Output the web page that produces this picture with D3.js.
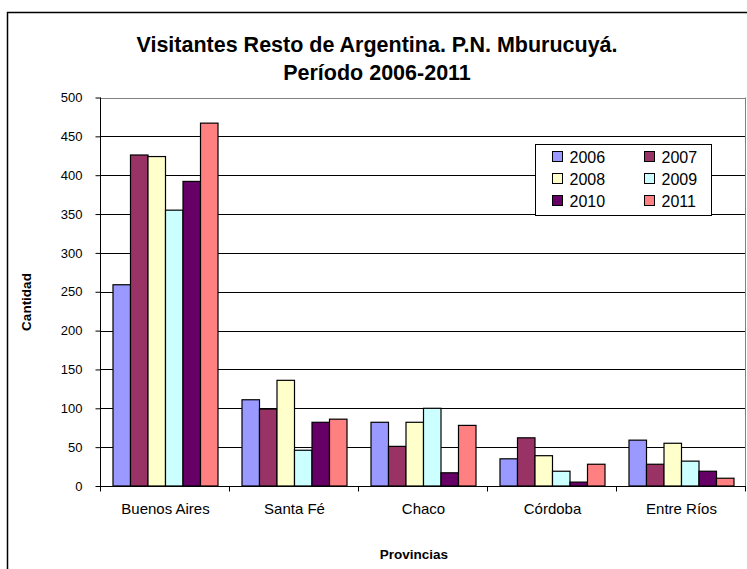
<!DOCTYPE html>
<html>
<head>
<meta charset="utf-8">
<script src="https://cdn.jsdelivr.net/npm/d3@7"></script>
<style>
  body { margin: 0; background: #fff; }
  svg { display: block; font-family: "Liberation Sans", Arial, sans-serif; }
</style>
</head>
<body>
<div class="chart"></div>
<script>
// data
var provincias = ["Buenos Aires", "Santa Fé", "Chaco", "Córdoba", "Entre Ríos"];
var years = ["2006", "2007", "2008", "2009", "2010", "2011"];
var v2006 = [259, 111, 82, 35, 59];
var v2007 = [426, 99, 51, 62, 28];
var v2008 = [424, 136, 82, 39, 55];
var v2009 = [355, 46, 100, 19, 32];
var v2010 = [392, 82, 17, 5, 19];
var v2011 = [467, 86, 78, 28, 10];
var yTicks = [0, 50, 100, 150, 200, 250, 300, 350, 400, 450, 500];

var colors = ["#9999FF", "#993366", "#FFFFCC", "#CCFFFF", "#660066", "#FF8080"];
var series = [v2006, v2007, v2008, v2009, v2010, v2011];

var svgWidth = 747;
var svgHeight = 569;
var plot = { left: 101, right: 746, top: 97.5, bottom: 486 };

var svg = d3.select(".chart")
    .append("svg")
    .attr("width", svgWidth)
    .attr("height", svgHeight);

// outer chart frame (runs off the right / bottom edge)
svg.append("rect")
    .attr("x", 7.5)
    .attr("y", 12.5)
    .attr("width", 760)
    .attr("height", 580)
    .attr("fill", "#fff")
    .attr("stroke", "#000")
    .attr("stroke-width", 1.5);

// title
var title = svg.append("text")
    .attr("text-anchor", "middle")
    .attr("font-weight", "bold")
    .attr("font-size", "21.5px");
title.append("tspan").attr("x", 377).attr("y", 52).text("Visitantes Resto de Argentina. P.N. Mburucuyá.");
title.append("tspan").attr("x", 377).attr("y", 80).text("Período 2006-2011");

// scales
var x0 = d3.scaleBand()
    .domain(provincias)
    .range([plot.left, plot.right])
    .paddingInner(0.186)
    .paddingOuter(0.093);

var x1 = d3.scaleBand()
    .domain(years)
    .range([0, x0.bandwidth()]);

var y = d3.scaleLinear()
    .domain([0, 500])
    .range([plot.bottom, plot.top]);

// gridlines
svg.append("g")
    .selectAll("line")
    .data(yTicks.slice(1))
    .enter()
    .append("line")
    .attr("x1", plot.left)
    .attr("x2", plot.right)
    .attr("y1", function(d) { return Math.round(y(d)) + 0.5; })
    .attr("y2", function(d) { return Math.round(y(d)) + 0.5; })
    .attr("stroke", function(d) { return d === 500 ? "#808080" : "#000"; })
    .attr("stroke-width", 1);

// plot area right border
svg.append("line")
    .attr("x1", plot.right - 0.5).attr("x2", plot.right - 0.5)
    .attr("y1", plot.top).attr("y2", plot.bottom)
    .attr("stroke", "#808080");

// bars
var groups = svg.append("g")
    .selectAll("g")
    .data(provincias)
    .enter()
    .append("g")
    .attr("transform", function(d) { return "translate(" + x0(d) + ",0)"; });

groups.selectAll("rect")
    .data(function(d, i) {
        return years.map(function(yr, j) { return { year: yr, value: series[j][i], color: colors[j] }; });
    })
    .enter()
    .append("rect")
    .attr("x", function(d) { return x1(d.year); })
    .attr("y", function(d) { return y(d.value); })
    .attr("width", x1.bandwidth())
    .attr("height", function(d) { return plot.bottom - y(d.value); })
    .attr("fill", function(d) { return d.color; })
    .attr("stroke", "#000")
    .attr("stroke-width", 1.2);

// y axis
var leftAxis = d3.axisLeft(y).tickValues(yTicks).tickSize(5).tickPadding(13);
var gy = svg.append("g")
    .attr("transform", "translate(" + (plot.left - 0.5) + ",0)")
    .call(leftAxis);
gy.select(".domain").attr("stroke", "#000").attr("d", "M0," + plot.top + "V" + plot.bottom);
gy.selectAll(".tick line").attr("stroke", "#000");
gy.selectAll("text")
    .attr("font-family", "Liberation Sans, Arial, sans-serif")
    .attr("font-size", "13px")
    .attr("fill", "#000");

// x axis with ticks at category boundaries
var gx = svg.append("g")
    .attr("transform", "translate(0," + (plot.bottom + 0.5) + ")");
gx.append("line")
    .attr("x1", plot.left - 5).attr("x2", plot.right)
    .attr("stroke", "#000");
gx.selectAll(".bound")
    .data(provincias.concat(["end"]))
    .enter()
    .append("line")
    .attr("class", "bound")
    .attr("x1", function(d, i) { return Math.round(plot.left + i * x0.step()) - 0.5; })
    .attr("x2", function(d, i) { return Math.round(plot.left + i * x0.step()) - 0.5; })
    .attr("y1", 0)
    .attr("y2", 5)
    .attr("stroke", "#000");
gx.selectAll(".lbl")
    .data(provincias)
    .enter()
    .append("text")
    .attr("class", "lbl")
    .attr("x", function(d) { return x0(d) + x0.bandwidth() / 2; })
    .attr("y", 27)
    .attr("text-anchor", "middle")
    .attr("font-size", "15px")
    .text(function(d) { return d; });

// axis titles
svg.append("text")
    .attr("transform", "translate(31,302) rotate(-90)")
    .attr("text-anchor", "middle")
    .attr("font-weight", "bold")
    .attr("font-size", "13.5px")
    .text("Cantidad");

svg.append("text")
    .attr("x", 414)
    .attr("y", 559)
    .attr("text-anchor", "middle")
    .attr("font-weight", "bold")
    .attr("font-size", "13.5px")
    .text("Provincias");

// legend
var legend = svg.append("g").attr("transform", "translate(535.5,144.5)");
legend.append("rect")
    .attr("width", 176)
    .attr("height", 71)
    .attr("fill", "#fff")
    .attr("stroke", "#000");

var items = legend.selectAll(".item")
    .data(years)
    .enter()
    .append("g")
    .attr("class", "item")
    .attr("transform", function(d, i) {
        return "translate(" + (i % 2 === 0 ? 17 : 109) + "," + (12 + Math.floor(i / 2) * 22) + ")";
    });
items.append("rect")
    .attr("x", 0)
    .attr("y", -5)
    .attr("width", 10)
    .attr("height", 10)
    .attr("fill", function(d, i) { return colors[i]; })
    .attr("stroke", "#000");
items.append("text")
    .attr("x", 17)
    .attr("y", 6)
    .attr("font-size", "16px")
    .text(function(d) { return d; });
</script>
</body>
</html>
